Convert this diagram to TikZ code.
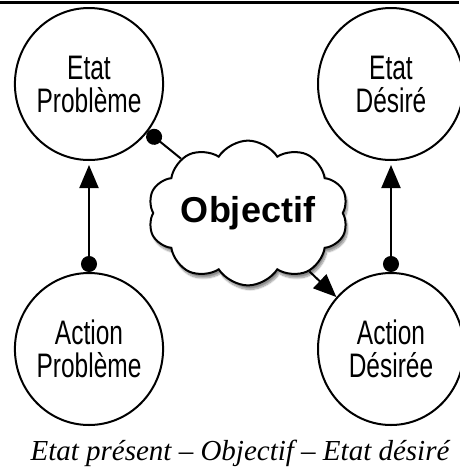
\documentclass[tikz,border=0pt]{standalone}
\usepackage{fontspec}
\setmainfont{Latin Modern Roman}
\newfontfamily\narrowsans{Liberation Sans}[FakeStretch=0.72]
\newfontfamily\boldsans{Liberation Sans}
\newfontfamily\capserif{Liberation Serif}
\usetikzlibrary{shapes.symbols,shapes.geometric,shadows.blur,arrows.meta}
\begin{document}
\begin{tikzpicture}[x=1pt,y=-1pt,
  state/.style={draw,line width=2pt,ellipse,minimum width=146pt,minimum height=152pt,inner sep=0pt,
    font=\narrowsans\fontsize{34}{33}\selectfont,align=center},
  link/.style={line width=2pt},
  dottail/.style={{Circle[length=16pt]}-{Triangle[length=23pt,width=19pt]}},
  cloudnode/.style={cloud,draw,line width=2pt,fill=white,cloud puffs=10,cloud puff arc=115,aspect=1.6,
    minimum width=174pt,minimum height=112pt,inner sep=0pt,
    font=\boldsans\bfseries\fontsize{36}{36}\selectfont,
    blur shadow={shadow xshift=2pt,shadow yshift=-4pt,shadow blur steps=10,shadow opacity=45}}]
\useasboundingbox (0,0) rectangle (459,475);
\draw[line width=3pt] (0,2) -- (459,2);
\node[state] (ep) at (89,84) {Etat\\Problème};
\node[state] (ed) at (391,84) {Etat\\Désiré};
\node[state] (ap) at (89,349) {Action\\Problème};
\node[state] (ad) at (391,349) {Action\\Désirée};
\node[cloudnode] (obj) at (248,213) {Objectif};
\draw[link,dottail,shorten >=4pt] (ap) -- (ep);
\draw[link,dottail,shorten >=4pt] (ad) -- (ed);
\draw[link,{Circle[length=16pt]}-] (ep) -- (obj);
\draw[link,-{Triangle[length=23pt,width=19pt]}] (obj) -- (ad);
\node[font=\capserif\itshape\fontsize{29}{29}\selectfont] (cap) at (240,453) {Etat présent – Objectif – Etat désiré};
\end{tikzpicture}
\end{document}
